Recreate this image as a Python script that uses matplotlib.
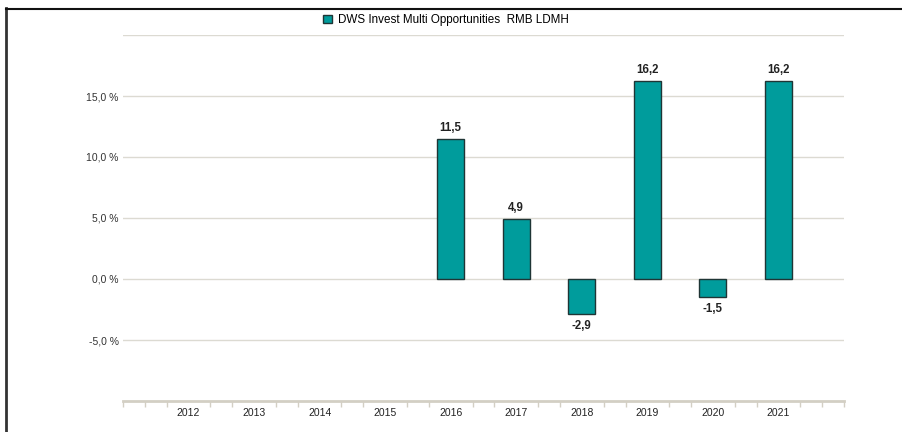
import matplotlib
matplotlib.use("Agg")
import matplotlib.pyplot as plt
from matplotlib.ticker import MultipleLocator
from matplotlib.patches import Rectangle
from matplotlib.lines import Line2D

plt.rcParams['font.family'] = ['Liberation Sans', 'DejaVu Sans']

years = [2012, 2013, 2014, 2015, 2016, 2017, 2018, 2019, 2020, 2021]
values = [None, None, None, None, 11.5, 4.9, -2.9, 16.2, -1.5, 16.2]
series_name = "DWS Invest Multi Opportunities  RMB LDMH"
ytick_vals = [-5, 0, 5, 10, 15]
ytick_labels = ["-5,0 %", "0,0 %", "5,0 %", "10,0 %", "15,0 %"]

W, H = 903, 432
fig = plt.figure(figsize=(W / 100, H / 100), dpi=100)
ax = fig.add_axes([123 / W, 1 - 401 / H, (844 - 123) / W, (401 - 35) / H])

bar_color = "#009c9c"
edge_color = "#1f3535"

xs = [y for y, v in zip(years, values) if v is not None]
vs = [v for v in values if v is not None]
ax.bar(xs, vs, width=0.41, color=bar_color, edgecolor=edge_color, linewidth=1.0, zorder=3)

for x, v in zip(xs, vs):
    lab = f"{v:.1f}".replace(".", ",")
    if v >= 0:
        ax.annotate(lab, (x, v), xytext=(0, 3.5), textcoords="offset points",
                    ha="center", va="bottom", fontsize=8.3, fontweight="bold", color="#222222")
    else:
        ax.annotate(lab, (x, v), xytext=(0, -4), textcoords="offset points",
                    ha="center", va="top", fontsize=8.3, fontweight="bold", color="#222222")

ax.set_xlim(2011, 2022)
ax.set_ylim(-10, 20)

# gridlines
for gy in [-5, 0, 5, 10, 15, 20]:
    ax.axhline(gy, color="#dcdad2", linewidth=1.0, zorder=1)

ax.set_yticks(ytick_vals)
ax.set_yticklabels(ytick_labels, fontsize=7.5, color="#333333")
ax.tick_params(axis="y", length=0, pad=3)

ax.set_xticks(years)
ax.set_xticklabels([str(y) for y in years], fontsize=7.5, color="#222222")
ax.xaxis.set_minor_locator(MultipleLocator(1 / 3))
ax.tick_params(axis="x", which="major", length=0, pad=5)
ax.tick_params(axis="x", which="minor", length=4, color="#d3cfc4", width=1)

for s in ["top", "right", "left"]:
    ax.spines[s].set_visible(False)
ax.spines["bottom"].set_color("#d3cfc4")
ax.spines["bottom"].set_linewidth(2)

# legend
handle = Rectangle((0, 0), 1, 1, facecolor=bar_color, edgecolor=edge_color, linewidth=1)
fig.legend([handle], [series_name], loc="center", bbox_to_anchor=(446 / W, 1 - 20 / H),
           frameon=False, fontsize=8.4, handlelength=0.75, handleheight=0.75, handletextpad=0.55)

# frame lines
fig.add_artist(Line2D([6.5 / W, 6.5 / W], [0, 1 - 8 / H], color="#333333", linewidth=2,
                      transform=fig.transFigure))
fig.add_artist(Line2D([6 / W, 1], [1 - 8.5 / H, 1 - 8.5 / H], color="#111111", linewidth=1.5,
                      transform=fig.transFigure))

fig.savefig("out.png", dpi=100, facecolor="white")
